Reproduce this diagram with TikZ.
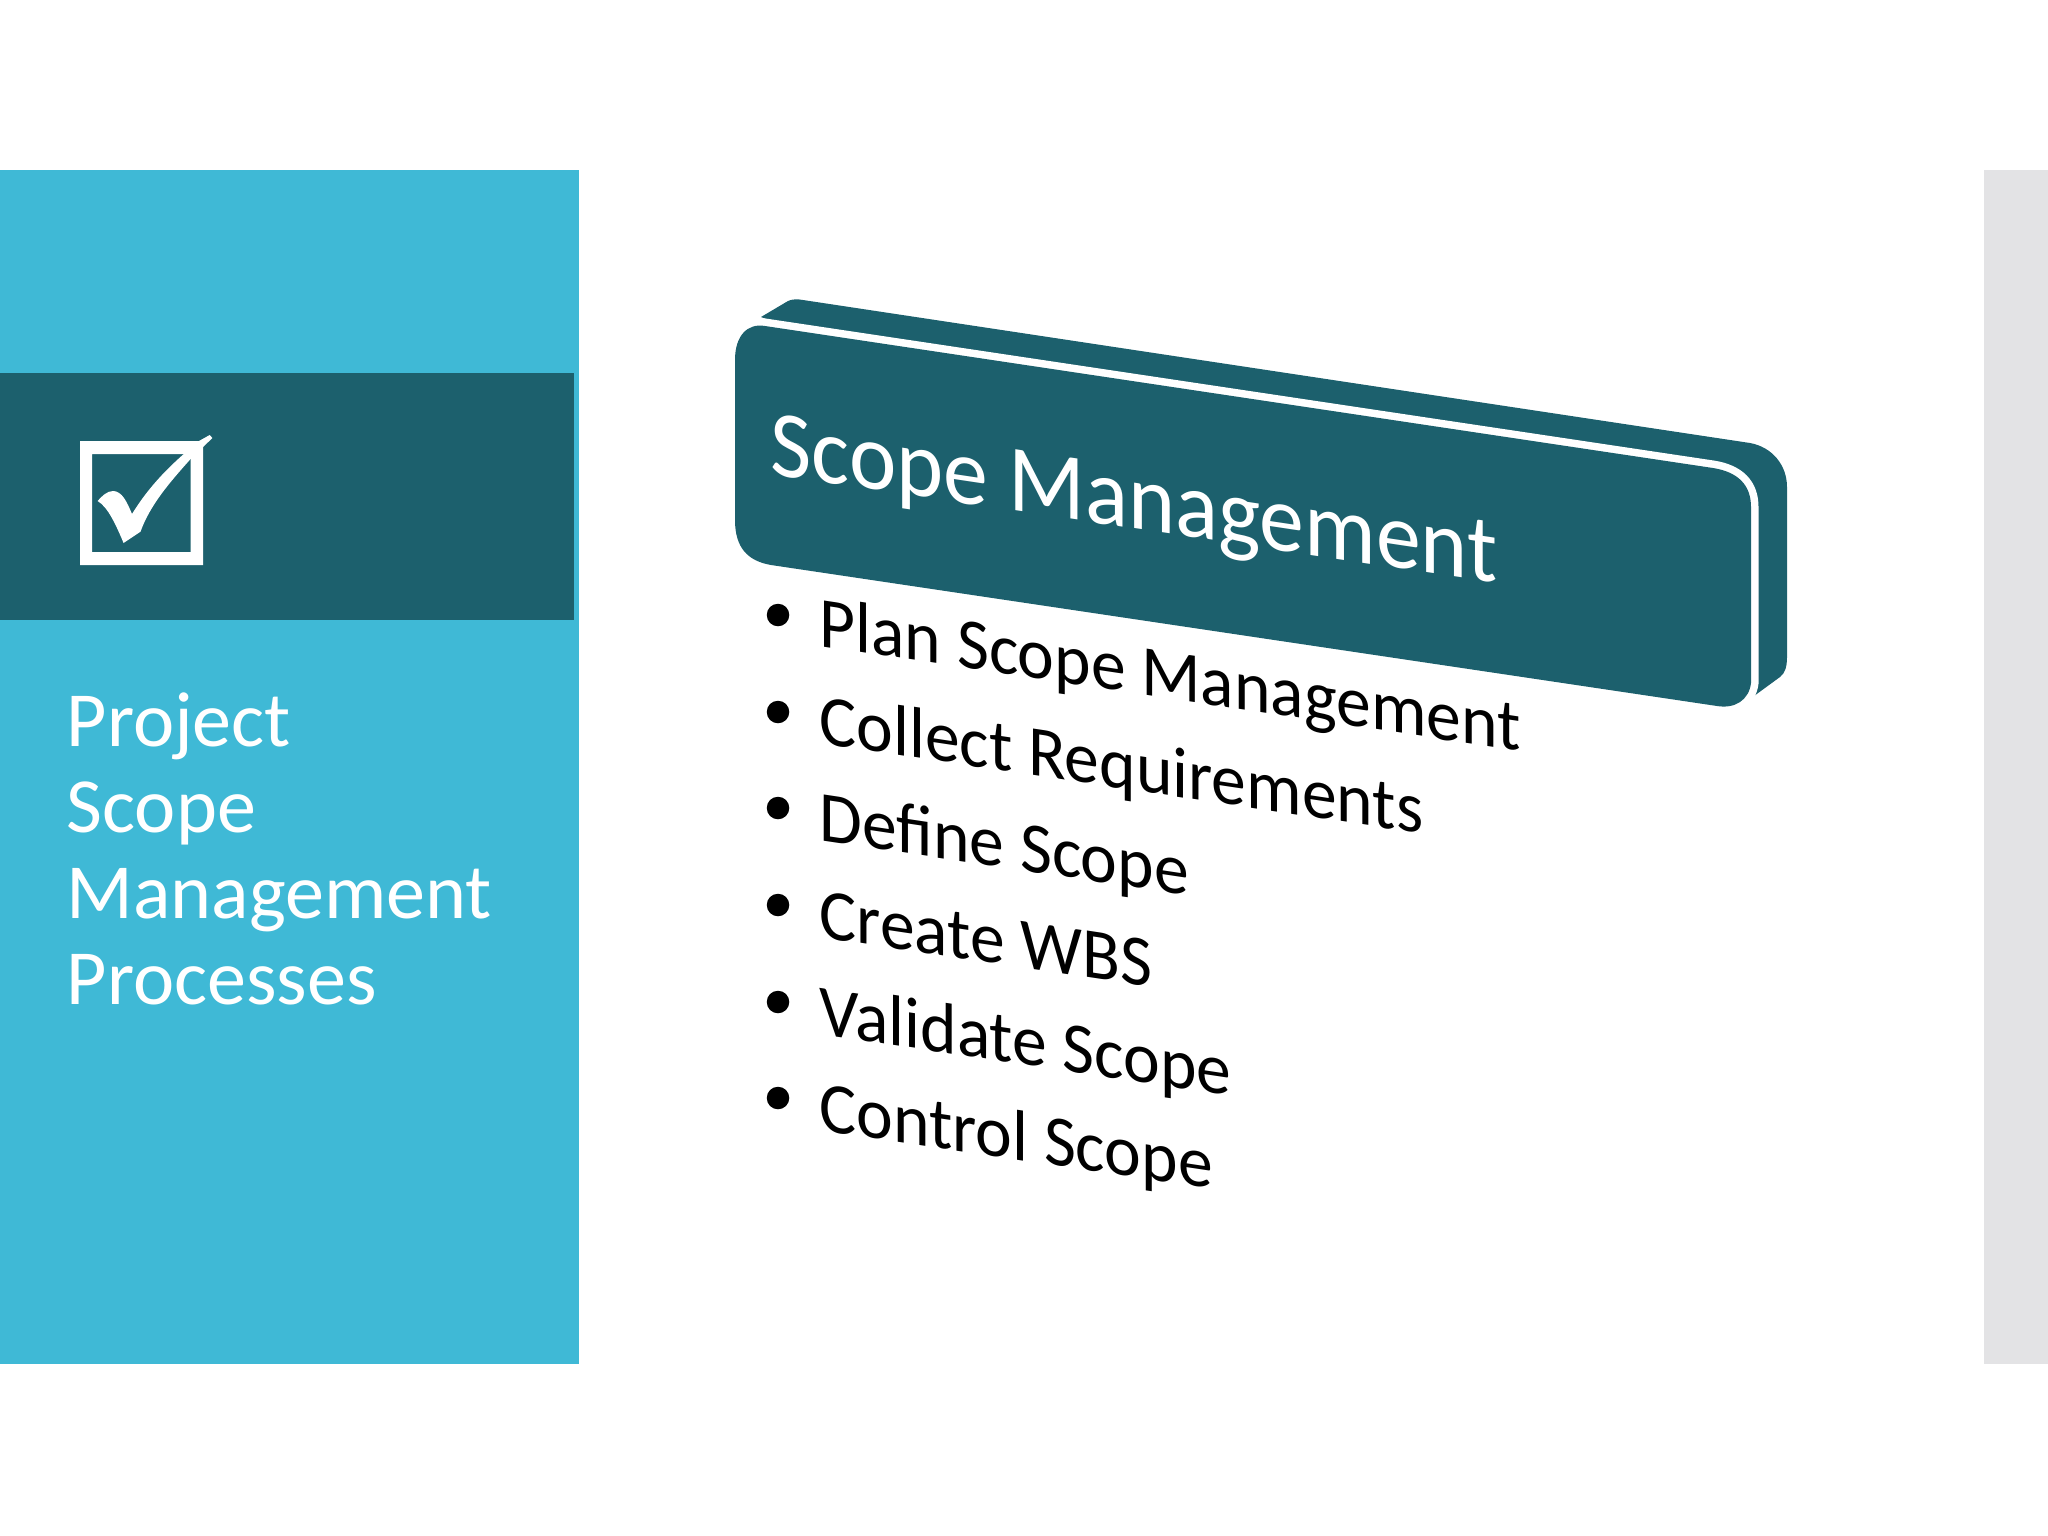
\documentclass[tikz,border=0pt]{standalone}
\usepackage{fontspec}
\setmainfont{Carlito}
\definecolor{lightteal}{HTML}{3FB9D6}
\definecolor{darkteal}{HTML}{1C606D}
\definecolor{sidegray}{HTML}{E3E3E5}
\tikzset{
    titlelabel/.style={anchor=base west, inner sep=0pt, yslant=-0.15, xscale=0.945, text=white, font=\fontsize{27}{32}\selectfont},
    itemlabel/.style={anchor=base west, inner sep=0pt, yslant=-0.15, xscale=0.965, text=black, font=\fontsize{20.5}{25}\selectfont},
    itemdot/.style={circle, fill=black, inner sep=0pt, minimum size=0.225cm}
}

\begin{document}
\begin{tikzpicture}[x=0.01cm, y=-0.01cm]
    \useasboundingbox (0,0) rectangle (2048,1536);
    % Paneles
    \fill[lightteal] (0,170) rectangle (579,1364);
    \fill[darkteal] (0,373) rectangle (574,620);
    \fill[sidegray] (1984,170) rectangle (2048,1364);
    % Casilla
    \fill[white, even odd rule] (80,441) rectangle (203,565) (92,454) rectangle (190.6,552);
    % Marca
    \fill[white] (209.7,435) -- (199,441) .. controls (170,465) and (150,485) .. (132,514)
        .. controls (127,502) and (122,491) .. (113,491) .. controls (107,491) and (102,496) .. (97.6,501)
        .. controls (108,507) and (116,525) .. (123.6,543) -- (140.5,531.7)
        .. controls (150,505) and (170,482) .. (190.6,459) -- (212.4,438) -- cycle;
    % Texto izquierdo
    \node[anchor=north west, inner sep=0pt, align=left, text=white, font=\fontsize{22.2}{24.5}\selectfont] (heading) at (66,692)
        {Project\\Scope\\Management\\Processes};
    % Caja trasera
    \fill[darkteal] (761,317) -- (788,301) .. controls (792,299) and (798,299) .. (803,300) -- (1750,443)
        .. controls (1772,447) and (1787,465) .. (1787,487) -- (1787,657)
        .. controls (1787,667) and (1785,673) .. (1780,677) -- (1754,696) -- cycle;
    % Caja frontal
    \path[fill=darkteal, preaction={draw=white, line width=0.15cm}] (765,326) -- (1713,468)
        .. controls (1738,472) and (1751,485) .. (1751,507) -- (1751,683)
        .. controls (1749,700) and (1735,709) .. (1717,706) -- (771,565)
        .. controls (748,561) and (735,548) .. (735,520) -- (735,360)
        .. controls (735,335) and (748,323) .. (765,326) -- cycle;
    % Titulo
    \node[titlelabel] (title) at (770,474) {Scope Management};
    % Lista
    \node[itemdot] (dot1) at (778,615) {};
    \node[itemlabel] (plan) at (819,646) {Plan Scope Management};
    \node[itemdot] (dot2) at (778,712) {};
    \node[itemlabel] (collect) at (819,743) {Collect Requirements};
    \node[itemdot] (dot3) at (778,808) {};
    \node[itemlabel] (define) at (819,840) {Define Scope};
    \node[itemdot] (dot4) at (778,905) {};
    \node[itemlabel] (create) at (819,937) {Create WBS};
    \node[itemdot] (dot5) at (778,1002) {};
    \node[itemlabel] (validate) at (819,1034) {Validate Scope};
    \node[itemdot] (dot6) at (778,1098) {};
    \node[itemlabel] (control) at (819,1130) {Control Scope};
\end{tikzpicture}
\end{document}
